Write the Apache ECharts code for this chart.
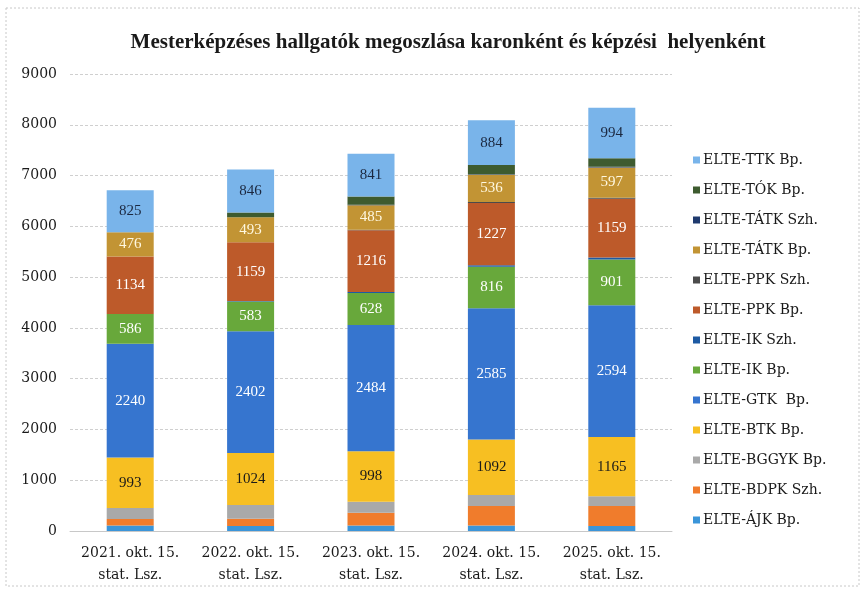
<!DOCTYPE html>
<html>
<head>
<meta charset="utf-8">
<script src="https://cdn.jsdelivr.net/npm/echarts@6/dist/echarts.min.js"></script>
<style>
  html, body {margin: 0; padding: 0; background: #fff;}
  #chart {width: 866px; height: 591px;}
</style>
</head>
<body>
<div id="chart"></div>
<script>
// categories (x axis)
const years = ['2021. okt. 15.\nstat. Lsz.', '2022. okt. 15.\nstat. Lsz.', '2023. okt. 15.\nstat. Lsz.', '2024. okt. 15.\nstat. Lsz.', '2025. okt. 15.\nstat. Lsz.'];

// series values, bottom of the stack first
const ajkBp    = [110, 100, 110, 110, 100];
const bdpkSzh  = [125, 140, 250, 380, 390];
const bggykBp  = [220, 270, 215, 220, 195];
const btkBp    = [993, 1024, 998, 1092, 1165];
const gtkBp    = [2240, 2402, 2484, 2585, 2594];
const ikBp     = [586, 583, 628, 816, 901];
const ikSzh    = [0, 10, 20, 30, 40];
const ppkBp    = [1134, 1159, 1216, 1227, 1159];
const ppkSzh   = [0, 0, 10, 20, 20];
const tatkBp   = [476, 493, 485, 536, 597];
const tatkSzh  = [0, 0, 10, 10, 10];
const tokBp    = [0, 90, 160, 180, 170];
const ttkBp    = [825, 846, 841, 884, 994];

const yTicks = [0, 1000, 2000, 3000, 4000, 5000, 6000, 7000, 8000, 9000];

const serif = '"Liberation Serif", "DejaVu Serif", serif';
const wideSerif = '"DejaVu Serif", "Liberation Serif", serif';

// name, data, colour, label colour (null = no label)
const layers = [
    ['ELTE-ÁJK Bp.', ajkBp, '#3b95d9', null],
    ['ELTE-BDPK Szh.', bdpkSzh, '#f07c2c', null],
    ['ELTE-BGGYK Bp.', bggykBp, '#a9a9a9', null],
    ['ELTE-BTK Bp.', btkBp, '#f7bf22', '#1a1a1a'],
    ['ELTE-GTK  Bp.', gtkBp, '#3675cf', '#ffffff'],
    ['ELTE-IK Bp.', ikBp, '#68a83b', '#ffffff'],
    ['ELTE-IK Szh.', ikSzh, '#1d5aa3', null],
    ['ELTE-PPK Bp.', ppkBp, '#bd5a2a', '#ffffff'],
    ['ELTE-PPK Szh.', ppkSzh, '#4b4b4b', null],
    ['ELTE-TÁTK Bp.', tatkBp, '#c29434', '#fff8e0'],
    ['ELTE-TÁTK Szh.', tatkSzh, '#1f3a6e', null],
    ['ELTE-TÓK Bp.', tokBp, '#3e5b2f', null],
    ['ELTE-TTK Bp.', ttkBp, '#79b4ea', '#1b2840']
];

const series = layers.map(([name, data, color, labelColor]) => ({
    name,
    type: 'bar',
    stack: 'total',
    barWidth: 47,
    data,
    itemStyle: {color},
    label: {
        show: !!labelColor,
        position: 'inside',
        color: labelColor || '#000',
        fontFamily: serif,
        fontSize: 15
    }
}));

const chart = echarts.init(document.getElementById('chart'));
chart.setOption({
    animation: false,
    backgroundColor: '#fff',
    title: {
        text: 'Mesterképzéses hallgatók megoszlása karonként és képzési  helyenként',
        left: 443,
        textAlign: 'center',
        top: 27,
        textStyle: {fontFamily: serif, fontSize: 21, fontWeight: 'bold', color: '#1a1a1a'}
    },
    graphic: [{
        type: 'rect',
        shape: {x: 6, y: 8, width: 853, height: 578},
        style: {fill: 'none', stroke: '#c8c8c8', lineWidth: 1, lineDash: [2, 2]},
        silent: true
    }],
    legend: {
        orient: 'vertical',
        left: 688,
        top: 148,
        itemWidth: 7,
        itemHeight: 7,
        itemGap: 16,
        icon: 'rect',
        textStyle: {fontFamily: wideSerif, fontSize: 14, color: '#1a1a1a', padding: [0, 0, 0, -2]},
        data: layers.map(l => l[0]).reverse()
    },
    grid: {left: 70, top: 74, width: 602, bottom: 60},
    xAxis: {
        type: 'category',
        data: years,
        axisTick: {show: false},
        axisLine: {lineStyle: {color: '#c8c8c8'}},
        axisLabel: {interval: 0, fontFamily: wideSerif, fontSize: 14, color: '#1a1a1a', lineHeight: 22, margin: 11}
    },
    yAxis: {
        type: 'value',
        min: yTicks[0],
        max: yTicks[yTicks.length - 1],
        interval: 1000,
        axisLine: {show: false},
        axisTick: {show: false},
        axisLabel: {fontFamily: wideSerif, fontSize: 14, color: '#1a1a1a', margin: 13, formatter: v => String(v)},
        splitLine: {lineStyle: {color: '#cfcfcf', type: [3, 2]}}
    },
    series
});
</script>
</body>
</html>
